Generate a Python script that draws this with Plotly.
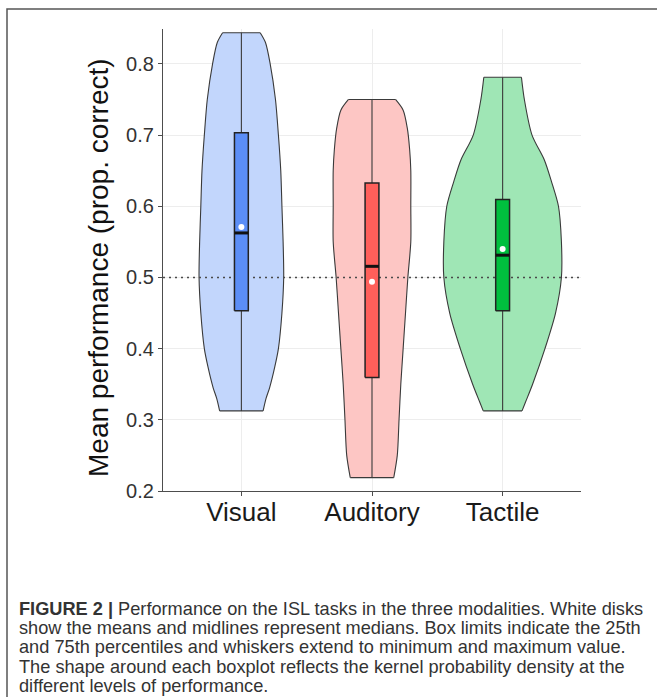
import plotly.graph_objects as go

# ---------------- data ----------------
groups = ["Visual", "Auditory", "Tactile"]
minimum = [0.3125, 0.21875, 0.3125]
q1 = [0.453125, 0.359375, 0.453125]
median = [0.5625, 0.515625, 0.53125]
mean = [0.571, 0.494, 0.540]
q3 = [0.703125, 0.6328, 0.609375]
maximum = [0.84375, 0.75, 0.78125]
chance_level = 0.5

# kernel density outlines (relative density, widest violin = 1)
visual_y = [0.84375, 0.83, 0.80, 0.75, 0.70, 0.65, 0.60, 0.55, 0.50, 0.45, 0.40, 0.375, 0.345, 0.33, 0.3125]
visual_d = [0.32, 0.41, 0.49, 0.58, 0.63, 0.67, 0.69, 0.71, 0.72, 0.69, 0.63, 0.57, 0.48, 0.42, 0.37]
auditory_y = [0.75, 0.735, 0.71, 0.68, 0.65, 0.60, 0.55, 0.50, 0.45, 0.40, 0.35, 0.30, 0.25, 0.21875]
auditory_d = [0.40, 0.53, 0.60, 0.64, 0.66, 0.66, 0.66, 0.61, 0.57, 0.53, 0.49, 0.46, 0.43, 0.37]
tactile_y = [0.78125, 0.75, 0.70, 0.665, 0.635, 0.60, 0.55, 0.50, 0.45, 0.40, 0.35, 0.325, 0.3125]
tactile_d = [0.32, 0.37, 0.50, 0.71, 0.83, 0.95, 1.0, 1.0, 0.90, 0.72, 0.51, 0.39, 0.33]

y_ticks = [0.2, 0.3, 0.4, 0.5, 0.6, 0.7, 0.8]
y_title = "Mean performance (prop. correct)"
caption_lines = [
    "<b>FIGURE 2 |</b> Performance on the ISL tasks in the three modalities. White disks",
    "show the means and midlines represent medians. Box limits indicate the 25th",
    "and 75th percentiles and whiskers extend to minimum and maximum value.",
    "The shape around each boxplot reflects the kernel probability density at the",
    "different levels of performance.",
]

# ---------------- styling ----------------
violin_fill = ["#c2d6fc", "#fdc6c4", "#9fe6b5"]
box_fill = ["#5b8ef7", "#ff5f5a", "#00bf3e"]
outline = "#3a3a3a"
VIOLIN_HALF = 0.45
BOX_HALF = 0.053

W, H = 657, 697
L, R, T, B = 163, 76, 29, 206
PW, PH = W - L - R, H - T - B


def px(x):
    return (x - L) / PW


def py(y):
    return (H - B - y) / PH


profiles = [(visual_y, visual_d), (auditory_y, auditory_d), (tactile_y, tactile_d)]

fig = go.Figure()

# violins
for i, (ys, ds) in enumerate(profiles):
    left = [i - d * VIOLIN_HALF for d in ds]
    right = [i + d * VIOLIN_HALF for d in ds]
    fig.add_trace(go.Scatter(x=left, y=ys, mode="lines", line=dict(color=outline, width=1.1, shape="spline", smoothing=0.8),
                             hoverinfo="skip", showlegend=False))
    fig.add_trace(go.Scatter(x=right, y=ys, mode="lines", fill="tonextx", fillcolor=violin_fill[i],
                             line=dict(color=outline, width=1.1, shape="spline", smoothing=0.8),
                             hoverinfo="skip", showlegend=False))
    fig.add_trace(go.Scatter(x=[left[0], right[0], None, left[-1], right[-1]],
                             y=[ys[0], ys[0], None, ys[-1], ys[-1]], mode="lines",
                             line=dict(color=outline, width=1.1), hoverinfo="skip", showlegend=False))

# chance line
fig.add_trace(go.Scatter(x=[-0.6, 2.6], y=[chance_level, chance_level], mode="lines",
                         line=dict(color="#4a4a4a", width=1.6, dash="2px,4px"), hoverinfo="skip", showlegend=False))

# whiskers + boxes
for i in range(len(groups)):
    fig.add_trace(go.Scatter(x=[i, i], y=[minimum[i], maximum[i]], mode="lines",
                             line=dict(color=outline, width=1.1), hoverinfo="skip", showlegend=False))
    fig.add_trace(go.Scatter(x=[i - BOX_HALF, i + BOX_HALF, i + BOX_HALF, i - BOX_HALF, i - BOX_HALF],
                             y=[q1[i], q1[i], q3[i], q3[i], q1[i]], mode="lines", fill="toself",
                             fillcolor=box_fill[i], line=dict(color="#222222", width=1.5),
                             hoverinfo="skip", showlegend=False))
    fig.add_trace(go.Scatter(x=[i - BOX_HALF, i + BOX_HALF], y=[median[i], median[i]], mode="lines",
                             line=dict(color="#111111", width=3), hoverinfo="skip", showlegend=False))
    fig.add_trace(go.Scatter(x=[i], y=[mean[i]], mode="markers",
                             marker=dict(color="white", size=6, line=dict(width=0)),
                             hoverinfo="skip", showlegend=False))

axis_common = dict(showline=True, linecolor="#4d4d4d", linewidth=1.3, ticks="outside", ticklen=4,
                   tickcolor="#4d4d4d", showgrid=True, gridcolor="#ededed", gridwidth=1, zeroline=False)

fig.update_layout(
    width=W, height=H,
    margin=dict(l=L, r=R, t=T, b=B),
    paper_bgcolor="white", plot_bgcolor="white",
    font=dict(family="Liberation Sans, Arial, sans-serif"),
    xaxis=dict(range=[-0.6, 2.6], tickvals=list(range(len(groups))), ticktext=groups,
               tickfont=dict(size=26, color="#1a1a1a"), ticklabelstandoff=-6, **axis_common),
    yaxis=dict(range=[0.2, 0.849], tickvals=y_ticks, ticktext=[f"{v:.1f}" for v in y_ticks],
               tickfont=dict(size=20, color="#333333"), **axis_common),
)

fig.add_annotation(text=y_title, xref="paper", yref="paper", x=px(98), y=py(268), textangle=-90,
                   showarrow=False, xanchor="center", yanchor="middle",
                   font=dict(size=28, color="#111111"))

for k, line in enumerate(caption_lines):
    fig.add_annotation(text=line, xref="paper", yref="paper", x=px(17), y=py(609 + 19.2 * k),
                       xanchor="left", yanchor="middle", showarrow=False, align="left",
                       font=dict(size=18.2, color="#333333", family="Liberation Sans, Arial, sans-serif"))

# figure frame (left and top edges visible, the rest runs off the page)
fig.add_shape(type="rect", xref="paper", yref="paper", x0=px(7), y0=py(760), x1=px(720), y1=py(9),
              line=dict(color="#555555", width=1.5), fillcolor="rgba(0,0,0,0)", layer="above")

fig.write_html("out.html", config={"displayModeBar": False},
               post_script="document.body.style.margin='0px';")
